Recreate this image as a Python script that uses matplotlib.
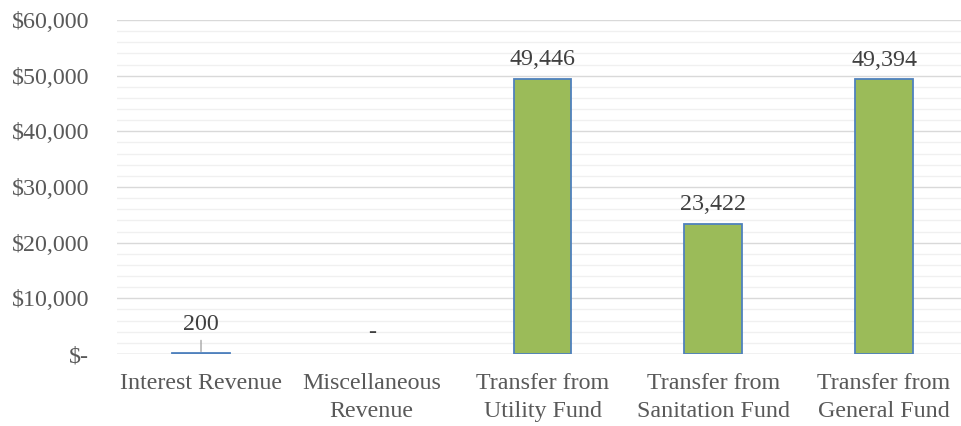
import matplotlib
matplotlib.use("Agg")
import matplotlib.pyplot as plt
from matplotlib.ticker import MultipleLocator, FuncFormatter

categories = ["Interest Revenue", "Miscellaneous\nRevenue", "Transfer from\nUtility Fund",
              "Transfer from\nSanitation Fund", "Transfer from\nGeneral Fund"]
values = [200, 0, 49446, 23422, 49394]

plt.rcParams["font.family"] = ["Liberation Serif", "DejaVu Serif"]
FS = 17.3

fig = plt.figure(figsize=(9.62, 4.26), dpi=100)
ax = fig.add_axes([117 / 962, 1 - 354 / 426, 845 / 962, 334 / 426])

x = list(range(len(categories)))
bars = ax.bar(x, values, width=0.337, color="#9BBB59", edgecolor="#4F81BD", linewidth=1.3, zorder=3)
for b, v in zip(bars, values):
    if v == 0:
        b.set_linewidth(0)

ax.set_ylim(0, 60000)
ax.set_xlim(-0.492, -0.492 + 845 / 170.75)
ax.yaxis.set_major_locator(MultipleLocator(10000))
ax.yaxis.set_minor_locator(MultipleLocator(2000))
ax.grid(axis="y", which="major", color="#d9d9d9", linewidth=1.0, zorder=0)
ax.grid(axis="y", which="minor", color="#f0f0f0", linewidth=1.0, zorder=0)
ax.set_axisbelow(True)

def money(v, pos):
    return "$-" if v == 0 else f"${v:,.0f}"

ax.yaxis.set_major_formatter(FuncFormatter(money))
ax.tick_params(axis="y", which="both", length=0, pad=20, labelsize=FS, labelcolor="#595959")
ax.tick_params(axis="x", length=0, pad=14, labelsize=FS, labelcolor="#595959")
ax.set_xticks(x)
ax.set_xticklabels(categories, linespacing=1.4)
for s in ax.spines.values():
    s.set_visible(False)
ax.axhline(0, color="#d9d9d9", linewidth=1.0, zorder=2)

for xi, v in zip(x, values):
    if v == 0:
        ax.annotate("-", (xi, v), xytext=(0, 8), textcoords="offset points",
                    ha="center", va="bottom", fontsize=FS, color="#404040")
    elif v < 2000:
        ax.annotate(f"{v:,.0f}", (xi, v), xytext=(0, 13), textcoords="offset points",
                    ha="center", va="bottom", fontsize=FS, color="#404040",
                    arrowprops=dict(arrowstyle="-", color="#a6a6a6", lw=1.0,
                                    shrinkA=2, shrinkB=1))
    else:
        ax.annotate(f"{v:,.0f}", (xi, v), xytext=(0, 6), textcoords="offset points",
                    ha="center", va="bottom", fontsize=FS, color="#404040")

fig.savefig("out.png", dpi=100)
